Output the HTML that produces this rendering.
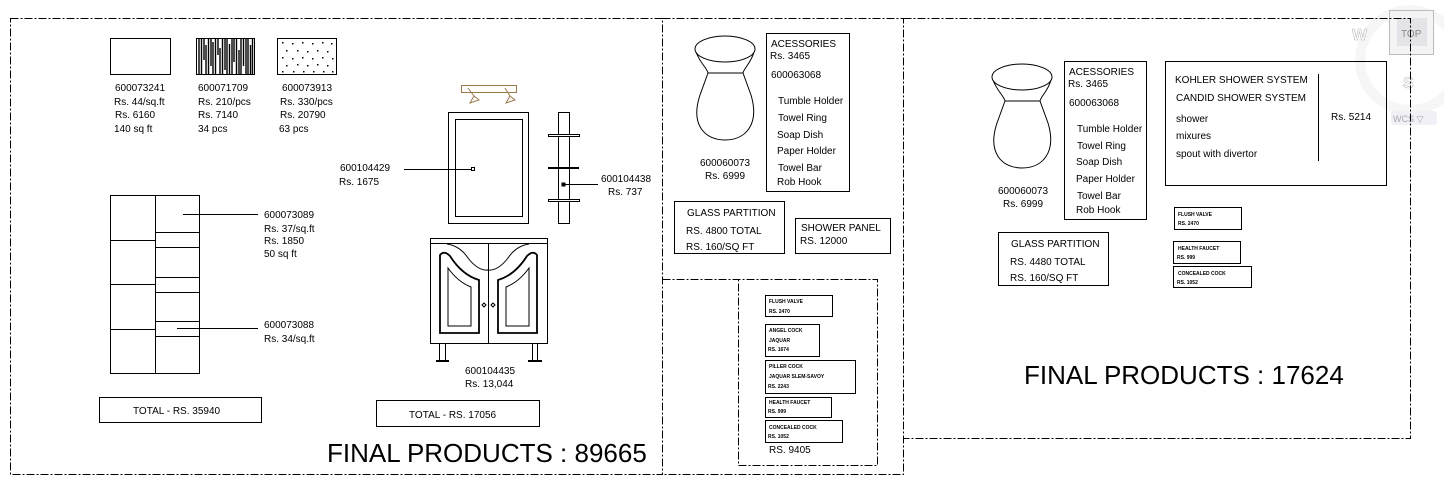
<!DOCTYPE html>
<html><head><meta charset="utf-8"><style>
html,body{margin:0;padding:0;background:#fff;width:1444px;height:491px;overflow:hidden}
svg{display:block}
text{font-family:"Liberation Sans",sans-serif}
.s{font-size:10px}
.t{font-size:5px;font-weight:bold}
.f{font-size:26px}
</style></head><body>
<svg width="1444" height="491" viewBox="0 0 1444 491" xmlns="http://www.w3.org/2000/svg">
<!-- widget -->
<g fill="none">
 <circle cx="1410" cy="60" r="50" stroke="#f6f6f6" stroke-width="10"/>
 <rect x="1389.5" y="10.5" width="44" height="44" stroke="#bbb" fill="#f4f4f4"/>
 <rect x="1397" y="18" width="30" height="28" fill="#e4e4e8"/>
 <rect x="1391" y="111" width="46" height="14" rx="3" fill="#f0f0f6"/>
</g>
<text x="1352" y="40" font-size="16" font-weight="bold" style="fill:#fff;stroke:#bbb;stroke-width:0.6">W</text>
<text x="1403" y="88" font-size="16" font-weight="bold" style="fill:#fff;stroke:#bbb;stroke-width:0.6">S</text>
<text x="1401" y="37" font-size="10" style="fill:#888">TOP</text>
<text x="1393" y="122" font-size="9" style="fill:#aaa">WCS ▽</text>
<g fill="none" stroke="#000" stroke-width="1">
 <g stroke-dasharray="8,2,2,2">
  <rect x="10.5" y="18.5" width="652" height="456"/>
  <path d="M662.5 18.5H903.5V474.5H662.5"/>
  <path d="M903.5 18.5H1410.5V438.5H903.5"/>
  <path d="M662.5 279.5H877.5V465.5H738.5V279.5"/>
 </g>
 <rect x="110.5" y="38.5" width="60" height="36"/>
 <rect x="196.5" y="38.5" width="58" height="36"/>
 <g stroke-width="1.4">
  <path d="M199 39V74M201.5 39V74M204 39V60M206 45V74M208.5 39V74M211 39V66M213 42V74M215.5 39V74M218 39V55M220 48V74M222.5 39V74M225 39V70M227 39V74M229.5 44V74M232 39V74M234 39V62M236.5 39V74M239 50V74M241 39V74M243.5 39V66M246 39V74M248 39V74M250.5 45V74M252.5 39V74"/>
 </g>
 <rect x="277.5" y="38.5" width="59" height="36"/>
 <rect x="110.5" y="195.5" width="89" height="178"/>
 <path d="M155.5 195V373M110 240.5H155M110 284.5H155M110 329.5H155M155 232.5H199M155 247.5H199M155 277.5H199M155 292.5H199M155 321.5H199M155 336.5H199"/>
 <path d="M183 214.5H258M177 328.5H258"/>
 <rect x="99.5" y="397.5" width="162" height="25"/>
 <g stroke="#9a7a4a">
  <rect x="461.5" y="85.5" width="55" height="7"/>
  <path d="M468 88L474 96L470 103L479 100L474 96M505 88L510 96L506 103L515 100L510 96"/>
 </g>
 <rect x="448.5" y="112.5" width="80" height="111"/>
 <rect x="455.5" y="119.5" width="67" height="97"/>
 <path d="M404 169.5H471"/>
 <rect x="471.5" y="167.5" width="3" height="3"/>
 <rect x="558.5" y="112.5" width="11" height="111"/>
 <rect x="548.5" y="134.5" width="31" height="2" fill="#fff"/>
 <rect x="548.5" y="199.5" width="31" height="2" fill="#fff"/>
 <path d="M548 168H579" stroke-width="2"/>
 <path d="M563 184.5H598"/>
 <rect x="562" y="183" width="3" height="3" fill="#000"/>
 <rect x="430.5" y="238.5" width="117" height="105"/>
 <path d="M430 243.5H547M488.5 243V343"/>
 <path d="M447 244Q460 246 468 258Q478 271 488 270Q498 271 508 258Q516 246 529 244"/>
 <path d="M440 333V255Q444 250 450 256Q462 275 479 280V333Z" stroke-width="1.8"/>
 <path d="M448 268Q458 282 471 287V326H448Z"/>
 <path d="M537 333V255Q533 250 527 256Q515 275 498 280V333Z" stroke-width="1.8"/>
 <path d="M529 268Q519 282 506 287V326H529Z"/>
 <path d="M482 305l2-2l2 2l-2 2zM491 305l2-2l2 2l-2 2z"/>
 <path d="M439.5 343V360M445.5 343V360M532.5 343V360M537.5 343V360"/>
 <path d="M436 361H449M528 361H542" stroke-width="2"/>
 <rect x="376.5" y="400.5" width="163" height="26"/>
 <g>
  <ellipse cx="725" cy="49" rx="30" ry="13"/>
  <path d="M696 52C700 63 707 68 708 73L700 95C690 125 705 140 725 140C745 140 760 125 751 95L743 73C744 68 751 63 754 52M708 73H743"/>
 </g>
 <rect x="766.5" y="33.5" width="83" height="158"/>
 <rect x="674.5" y="201.5" width="110" height="52"/>
 <rect x="795.5" y="218.5" width="95" height="35"/>
 <rect x="765.5" y="295.5" width="67" height="21"/>
 <rect x="765.5" y="324.5" width="54" height="32"/>
 <rect x="765.5" y="360.5" width="90" height="33"/>
 <rect x="765.5" y="397.5" width="66" height="20"/>
 <rect x="765.5" y="420.5" width="77" height="22"/>
 <g transform="translate(297,28)">
  <ellipse cx="725" cy="49" rx="30" ry="13"/>
  <path d="M696 52C700 63 707 68 708 73L700 95C690 125 705 140 725 140C745 140 760 125 751 95L743 73C744 68 751 63 754 52M708 73H743"/>
 </g>
 <rect x="1064.5" y="61.5" width="82" height="158"/>
 <rect x="998.5" y="232.5" width="110" height="53"/>
 <rect x="1165.5" y="61.5" width="221" height="124"/>
 <path d="M1318.5 74V161"/>
 <rect x="1174.5" y="207.5" width="67" height="22"/>
 <rect x="1173.5" y="241.5" width="67" height="22"/>
 <rect x="1173.5" y="266.5" width="78" height="21"/>
</g>
<g fill="#000">
 <rect x="282" y="42" width="1.5" height="1.5"/><rect x="292" y="43" width="1.5" height="1.5"/><rect x="302" y="42" width="1.5" height="1.5"/><rect x="312" y="43" width="1.5" height="1.5"/><rect x="322" y="42" width="1.5" height="1.5"/><rect x="331" y="43" width="1.5" height="1.5"/>
 <rect x="286" y="50" width="1.5" height="1.5"/><rect x="297" y="50" width="1.5" height="1.5"/><rect x="307" y="51" width="1.5" height="1.5"/><rect x="317" y="50" width="1.5" height="1.5"/><rect x="327" y="51" width="1.5" height="1.5"/>
 <rect x="282" y="57" width="1.5" height="1.5"/><rect x="292" y="58" width="1.5" height="1.5"/><rect x="302" y="57" width="1.5" height="1.5"/><rect x="312" y="58" width="1.5" height="1.5"/><rect x="322" y="57" width="1.5" height="1.5"/><rect x="332" y="58" width="1.5" height="1.5"/>
 <rect x="286" y="65" width="1.5" height="1.5"/><rect x="297" y="64" width="1.5" height="1.5"/><rect x="307" y="65" width="1.5" height="1.5"/><rect x="317" y="64" width="1.5" height="1.5"/><rect x="327" y="65" width="1.5" height="1.5"/>
 <rect x="282" y="71" width="1.5" height="1.5"/><rect x="293" y="71" width="1.5" height="1.5"/><rect x="303" y="71" width="1.5" height="1.5"/><rect x="313" y="71" width="1.5" height="1.5"/><rect x="323" y="71" width="1.5" height="1.5"/><rect x="332" y="71" width="1.5" height="1.5"/>
</g>
<g class="s" fill="#000">
 <text x="115" y="91">600073241</text><text x="114" y="105">Rs. 44/sq.ft</text><text x="115" y="118">Rs. 6160</text><text x="114" y="132">140 sq ft</text>
 <text x="198" y="91">600071709</text><text x="198" y="105">Rs. 210/pcs</text><text x="198" y="118">Rs. 7140</text><text x="198" y="132">34 pcs</text>
 <text x="282" y="91">600073913</text><text x="280" y="105">Rs. 330/pcs</text><text x="280" y="118">Rs. 20790</text><text x="279" y="132">63 pcs</text>
 <text x="264" y="218">600073089</text><text x="264" y="232">Rs. 37/sq.ft</text><text x="264" y="244">Rs. 1850</text><text x="264" y="257">50 sq ft</text>
 <text x="264" y="328">600073088</text><text x="264" y="342">Rs. 34/sq.ft</text>
 <text x="133" y="414">TOTAL - RS. 35940</text>
 <text x="340" y="171">600104429</text><text x="339" y="185">Rs. 1675</text>
 <text x="601" y="182">600104438</text><text x="608" y="195">Rs. 737</text>
 <text x="465" y="374">600104435</text><text x="465" y="387">Rs. 13,044</text>
 <text x="409" y="418">TOTAL - RS. 17056</text>
 <text x="700" y="166">600060073</text><text x="705" y="179">Rs. 6999</text>
 <text x="771" y="47">ACESSORIES</text><text x="770" y="59">Rs. 3465</text><text x="771" y="78">600063068</text>
 <text x="778" y="104">Tumble Holder</text><text x="778" y="121">Towel Ring</text><text x="777" y="138">Soap Dish</text><text x="777" y="154">Paper Holder</text><text x="778" y="171">Towel Bar</text><text x="777" y="185">Rob Hook</text>
 <text x="687" y="216">GLASS PARTITION</text><text x="686" y="234">RS. 4800 TOTAL</text><text x="686" y="250">RS. 160/SQ FT</text>
 <text x="801" y="231">SHOWER PANEL</text><text x="800" y="244">RS. 12000</text>
 <text x="769" y="453">RS. 9405</text>
 <text x="998" y="194">600060073</text><text x="1003" y="207">Rs. 6999</text>
 <text x="1069" y="75">ACESSORIES</text><text x="1068" y="87">Rs. 3465</text><text x="1069" y="106">600063068</text>
 <text x="1077" y="132">Tumble Holder</text><text x="1077" y="149">Towel Ring</text><text x="1076" y="165">Soap Dish</text><text x="1076" y="182">Paper Holder</text><text x="1077" y="199">Towel Bar</text><text x="1076" y="213">Rob Hook</text>
 <text x="1011" y="247">GLASS PARTITION</text><text x="1010" y="265">RS. 4480 TOTAL</text><text x="1010" y="281">RS. 160/SQ FT</text>
 <text x="1175" y="83">KOHLER SHOWER SYSTEM</text><text x="1176" y="101">CANDID SHOWER SYSTEM</text>
 <text x="1176" y="122">shower</text><text x="1176" y="139">mixures</text><text x="1176" y="157">spout with divertor</text>
 <text x="1331" y="120">Rs. 5214</text>
</g>
<g class="t" fill="#000">
 <text x="769" y="303">FLUSH VALVE</text><text x="769" y="313">RS. 2470</text>
 <text x="769" y="332">ANGEL COCK</text><text x="769" y="342">JAQUAR</text><text x="768" y="351">RS. 1674</text>
 <text x="769" y="368">PILLER COCK</text><text x="769" y="378">JAQUAR SLEM-SAVOY</text><text x="768" y="388">RS. 2243</text>
 <text x="769" y="404">HEALTH FAUCET</text><text x="768" y="413">RS. 999</text>
 <text x="769" y="429">CONCEALED COCK</text><text x="768" y="438">RS. 1052</text>
 <text x="1178" y="216">FLUSH VALVE</text><text x="1178" y="225">RS. 2470</text>
 <text x="1178" y="250">HEALTH FAUCET</text><text x="1177" y="259">RS. 999</text>
 <text x="1178" y="275">CONCEALED COCK</text><text x="1177" y="284">RS. 1052</text>
</g>
<text class="f" x="327" y="462" fill="#000">FINAL PRODUCTS : 89665</text>
<text class="f" x="1024" y="384" fill="#000">FINAL PRODUCTS : 17624</text>
</svg>
</body></html>
